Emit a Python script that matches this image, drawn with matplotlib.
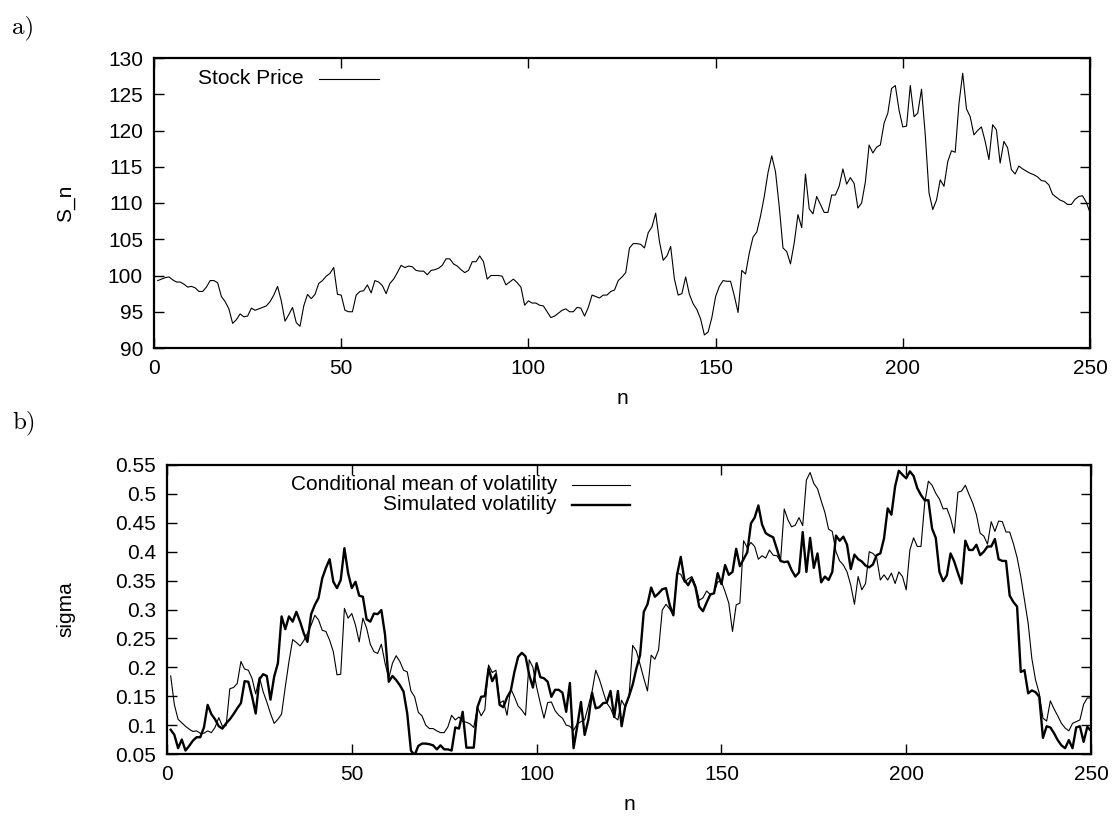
import numpy as np
import matplotlib
matplotlib.use("Agg")
import matplotlib.pyplot as plt
from matplotlib.ticker import FuncFormatter

plt.rcParams['font.family'] = ['Liberation Sans', 'DejaVu Sans']
plt.rcParams['font.size'] = 15

# time steps
steps = np.arange(1, 251)

# a) simulated stock price path
stock_price = [
    99.3, 99.5, 99.7, 99.8, 99.4, 99.1, 99.1, 98.8, 98.4, 98.5,
    98.3, 97.8, 97.8, 98.4, 99.3, 99.3, 99.0, 97.1, 96.4, 95.4,
    93.4, 93.9, 94.7, 94.3, 94.4, 95.5, 95.2, 95.4, 95.6, 95.8,
    96.4, 97.3, 98.5, 96.5, 93.7, 94.6, 95.6, 93.5, 93.0, 95.8,
    97.4, 96.8, 97.4, 98.9, 99.3, 99.9, 100.3, 101.1, 97.4, 97.3,
    95.2, 95.0, 95.0, 97.3, 97.8, 97.9, 98.7, 97.6, 99.3, 99.1,
    98.6, 97.5, 98.9, 99.5, 100.4, 101.4, 101.1, 101.3, 101.2, 100.7,
    100.6, 100.6, 100.1, 100.7, 100.8, 101.0, 101.4, 102.3, 102.3, 101.6,
    101.3, 100.8, 100.4, 100.7, 101.9, 101.9, 102.7, 101.9, 99.5, 100.0,
    100.0, 100.0, 99.9, 98.7, 99.1, 99.5, 99.0, 98.4, 95.9, 96.5,
    96.2, 96.2, 95.9, 95.8, 95.0, 94.2, 94.4, 94.8, 95.2, 95.4,
    95.0, 95.0, 95.6, 95.5, 94.4, 95.6, 97.3, 97.1, 96.9, 97.3,
    97.3, 97.8, 98.0, 99.3, 99.8, 100.4, 103.8, 104.4, 104.4, 104.3,
    103.8, 105.9, 106.7, 108.6, 104.7, 102.1, 102.7, 104.0, 99.5, 97.3,
    97.5, 99.8, 97.4, 96.1, 95.3, 94.0, 91.8, 92.2, 94.2, 97.1,
    98.5, 99.3, 99.2, 99.2, 97.2, 94.9, 100.7, 100.2, 103.1, 105.3,
    106.0, 108.2, 110.9, 114.2, 116.5, 114.3, 109.5, 103.8, 103.3, 101.6,
    104.5, 108.4, 106.6, 114.0, 109.2, 108.5, 110.9, 109.8, 108.7, 108.7,
    111.1, 111.1, 112.3, 114.7, 112.6, 113.5, 112.7, 109.3, 110.0, 112.9,
    118.0, 116.9, 117.7, 118.0, 121.0, 122.4, 125.8, 126.2, 122.8, 120.5,
    120.6, 126.2, 121.9, 122.4, 125.7, 119.4, 111.4, 109.1, 110.4, 113.2,
    112.3, 115.7, 117.2, 117.0, 123.7, 127.9, 123.0, 121.9, 119.4, 120.0,
    120.5, 118.5, 116.0, 120.8, 120.1, 115.5, 118.5, 117.6, 114.6, 114.0,
    115.1, 114.7, 114.4, 114.1, 113.9, 113.6, 113.1, 113.0, 112.5, 111.2,
    110.8, 110.4, 110.2, 109.8, 109.8, 110.5, 110.9, 111.0, 110.1, 108.7,
]

# b) filtered (conditional mean) volatility
cond_mean_vol = [
    0.185, 0.135, 0.110, 0.104, 0.098, 0.093, 0.089, 0.090, 0.086, 0.086,
    0.090, 0.087, 0.096, 0.113, 0.098, 0.099, 0.163, 0.165, 0.172, 0.210,
    0.197, 0.195, 0.181, 0.154, 0.183, 0.158, 0.140, 0.120, 0.103, 0.110,
    0.119, 0.166, 0.210, 0.248, 0.243, 0.237, 0.246, 0.259, 0.273, 0.290,
    0.282, 0.264, 0.262, 0.247, 0.227, 0.187, 0.188, 0.302, 0.285, 0.293,
    0.273, 0.244, 0.285, 0.268, 0.240, 0.227, 0.224, 0.240, 0.207, 0.181,
    0.207, 0.220, 0.210, 0.195, 0.192, 0.159, 0.149, 0.122, 0.116, 0.100,
    0.094, 0.094, 0.090, 0.087, 0.087, 0.097, 0.117, 0.109, 0.114, 0.106,
    0.105, 0.102, 0.096, 0.131, 0.116, 0.127, 0.204, 0.191, 0.195, 0.138,
    0.142, 0.117, 0.163, 0.149, 0.133, 0.126, 0.117, 0.213, 0.200, 0.166,
    0.138, 0.112, 0.139, 0.140, 0.125, 0.117, 0.112, 0.100, 0.098, 0.091,
    0.102, 0.106, 0.109, 0.133, 0.158, 0.195, 0.179, 0.158, 0.138, 0.129,
    0.114, 0.109, 0.143, 0.131, 0.149, 0.238, 0.228, 0.205, 0.181, 0.159,
    0.221, 0.214, 0.230, 0.299, 0.309, 0.301, 0.290, 0.363, 0.361, 0.347,
    0.353, 0.357, 0.342, 0.316, 0.320, 0.332, 0.326, 0.328, 0.348, 0.348,
    0.331, 0.311, 0.262, 0.308, 0.311, 0.419, 0.407, 0.416, 0.409, 0.387,
    0.393, 0.389, 0.403, 0.394, 0.393, 0.384, 0.474, 0.455, 0.443, 0.446,
    0.459, 0.445, 0.524, 0.537, 0.518, 0.509, 0.488, 0.468, 0.439, 0.435,
    0.400, 0.384, 0.377, 0.365, 0.342, 0.309, 0.357, 0.334, 0.345, 0.400,
    0.397, 0.390, 0.351, 0.360, 0.351, 0.363, 0.345, 0.365, 0.357, 0.334,
    0.403, 0.424, 0.409, 0.409, 0.484, 0.522, 0.515, 0.501, 0.491, 0.474,
    0.475, 0.458, 0.432, 0.503, 0.505, 0.515, 0.499, 0.484, 0.464, 0.432,
    0.427, 0.413, 0.452, 0.435, 0.453, 0.452, 0.434, 0.434, 0.414, 0.390,
    0.357, 0.316, 0.276, 0.215, 0.178, 0.155, 0.112, 0.107, 0.142, 0.128,
    0.116, 0.103, 0.095, 0.090, 0.103, 0.106, 0.109, 0.136, 0.147, 0.147,
]

# b) volatility path used in the simulation
sim_vol = [
    0.092, 0.083, 0.060, 0.075, 0.056, 0.064, 0.073, 0.079, 0.079, 0.096,
    0.135, 0.119, 0.110, 0.098, 0.094, 0.103, 0.110, 0.119, 0.129, 0.138,
    0.176, 0.175, 0.150, 0.120, 0.179, 0.188, 0.185, 0.144, 0.184, 0.207,
    0.288, 0.266, 0.288, 0.279, 0.296, 0.279, 0.259, 0.244, 0.292, 0.308,
    0.320, 0.354, 0.372, 0.387, 0.348, 0.337, 0.351, 0.406, 0.363, 0.337,
    0.348, 0.324, 0.322, 0.283, 0.279, 0.293, 0.292, 0.299, 0.256, 0.175,
    0.185, 0.178, 0.169, 0.158, 0.120, 0.056, 0.048, 0.064, 0.068, 0.068,
    0.067, 0.065, 0.058, 0.065, 0.058, 0.058, 0.056, 0.096, 0.094, 0.123,
    0.061, 0.061, 0.061, 0.131, 0.149, 0.150, 0.198, 0.176, 0.188, 0.135,
    0.131, 0.148, 0.159, 0.192, 0.218, 0.225, 0.219, 0.187, 0.165, 0.207,
    0.183, 0.181, 0.175, 0.149, 0.161, 0.161, 0.156, 0.123, 0.173, 0.060,
    0.098, 0.140, 0.083, 0.109, 0.156, 0.129, 0.131, 0.138, 0.139, 0.159,
    0.114, 0.159, 0.098, 0.133, 0.150, 0.170, 0.198, 0.221, 0.296, 0.309,
    0.338, 0.322, 0.328, 0.335, 0.337, 0.308, 0.290, 0.360, 0.391, 0.351,
    0.342, 0.354, 0.338, 0.305, 0.297, 0.312, 0.326, 0.328, 0.363, 0.344,
    0.377, 0.360, 0.365, 0.405, 0.375, 0.387, 0.399, 0.449, 0.459, 0.480,
    0.447, 0.432, 0.428, 0.425, 0.405, 0.384, 0.382, 0.383, 0.368, 0.357,
    0.364, 0.434, 0.365, 0.424, 0.372, 0.397, 0.347, 0.357, 0.351, 0.365,
    0.428, 0.419, 0.426, 0.412, 0.370, 0.395, 0.387, 0.383, 0.376, 0.373,
    0.378, 0.394, 0.397, 0.423, 0.475, 0.464, 0.513, 0.540, 0.533, 0.527,
    0.539, 0.531, 0.510, 0.498, 0.489, 0.489, 0.440, 0.424, 0.365, 0.349,
    0.359, 0.397, 0.383, 0.363, 0.345, 0.419, 0.403, 0.403, 0.412, 0.394,
    0.400, 0.409, 0.409, 0.422, 0.387, 0.384, 0.384, 0.324, 0.313, 0.305,
    0.192, 0.195, 0.155, 0.160, 0.157, 0.149, 0.078, 0.098, 0.096, 0.086,
    0.074, 0.065, 0.060, 0.074, 0.060, 0.096, 0.098, 0.071, 0.097, 0.090,
]

W, H = 1118, 819
fig = plt.figure(figsize=(W / 100, H / 100), dpi=100)
ax_a = fig.add_axes([154 / W, 1 - 348 / H, 936 / W, 290 / H])
ax_b = fig.add_axes([167 / W, 1 - 754 / H, 924 / W, 289 / H])


def style_axes(ax):
    for s in ax.spines.values():
        s.set_linewidth(1.6)
    ax.tick_params(direction='in', length=7, width=1, top=True, right=True,
                   pad=8, labelsize=15)
    ax.yaxis.set_major_formatter(FuncFormatter(lambda v, p: f"{round(v, 2):g}"))
    ax.set_xlim(0, 250)
    ax.set_xticks(np.arange(0, 251, 50))


def key_entry(ax, x_text, y, label, lw, length):
    # gnuplot style key: right aligned text, sample line after it
    ax.text(x_text, y, label, transform=ax.transAxes, ha='right', va='center')
    ax.plot([x_text + 0.016, x_text + 0.016 + length], [y, y],
            transform=ax.transAxes, color='black', lw=lw)


# panel a
ax_a.plot(steps, stock_price, color='black', lw=0.8)
style_axes(ax_a)
ax_a.set_ylim(90, 130)
ax_a.set_yticks(np.arange(90, 131, 5))
ax_a.set_xlabel('n')
ax_a.set_ylabel('S_n')
ax_a.xaxis.set_label_coords(0.5, -0.141)
ax_a.yaxis.set_label_coords(-0.084, 0.5)
key_entry(ax_a, 0.160, 0.928, 'Stock Price', 0.8, 0.064)

# panel b
ax_b.plot(steps, cond_mean_vol, color='black', lw=0.8)
ax_b.plot(steps, sim_vol, color='black', lw=1.7)
style_axes(ax_b)
ax_b.set_ylim(0.05, 0.55)
ax_b.set_yticks(np.arange(0.05, 0.551, 0.05))
ax_b.set_xlabel('n')
ax_b.set_ylabel('sigma')
ax_b.xaxis.set_label_coords(0.5, -0.142)
ax_b.yaxis.set_label_coords(-0.0996, 0.5)
key_entry(ax_b, 0.422, 0.931, 'Conditional mean of volatility', 0.8, 0.063)
key_entry(ax_b, 0.422, 0.862, 'Simulated volatility', 1.7, 0.063)

fig.text(12 / W, 1 - 28 / H, 'a)', family='cmr10', fontsize=18, va='center')
fig.text(12 / W, 1 - 423 / H, 'b)', family='cmr10', fontsize=18, va='center')

fig.savefig('out.png', dpi=100)
